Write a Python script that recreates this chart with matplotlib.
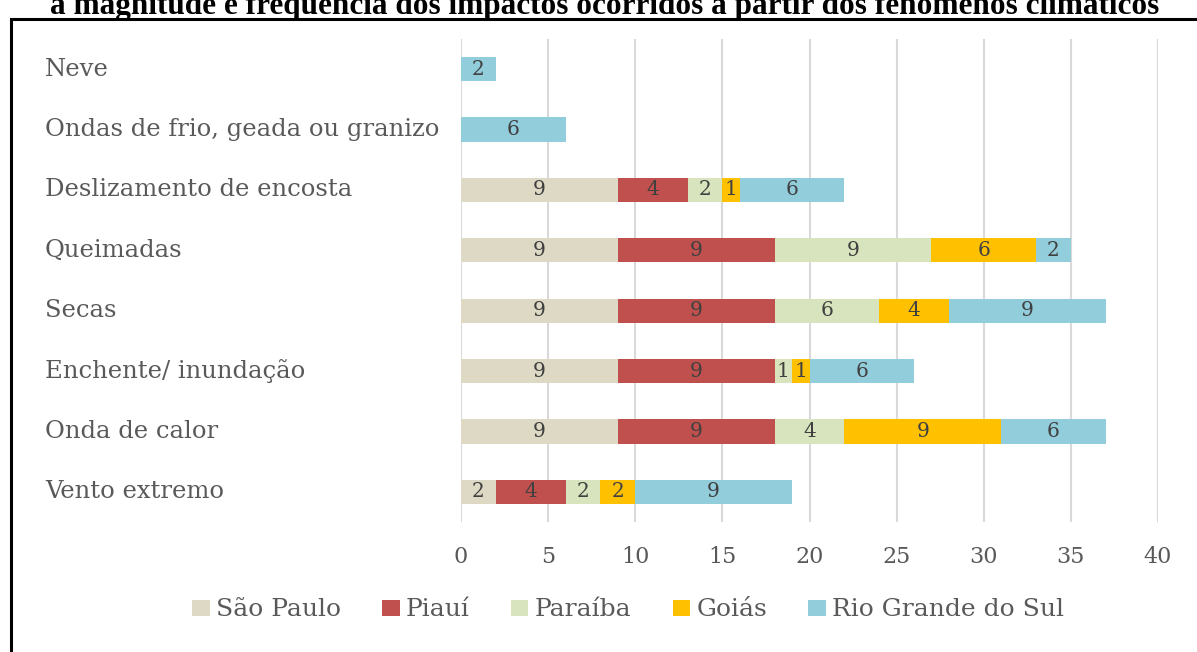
import matplotlib
matplotlib.use("Agg")
import matplotlib.pyplot as plt
from matplotlib.patches import Rectangle, Patch
import numpy as np

categories = ["Neve", "Ondas de frio, geada ou granizo", "Deslizamento de encosta",
              "Queimadas", "Secas", "Enchente/ inundação", "Onda de calor", "Vento extremo"]
series_names = ["São Paulo", "Piauí", "Paraíba", "Goiás", "Rio Grande do Sul"]
sao_paulo = [0, 0, 9, 9, 9, 9, 9, 2]
piaui = [0, 0, 4, 9, 9, 9, 9, 4]
paraiba = [0, 0, 2, 9, 6, 1, 4, 2]
goias = [0, 0, 1, 6, 4, 1, 9, 2]
rio_grande = [2, 6, 6, 2, 9, 6, 6, 9]
x_ticks = [0, 5, 10, 15, 20, 25, 30, 35, 40]
colors = ["#ddd9c4", "#c0504d", "#d7e4bd", "#ffc000", "#92cddc"]
title = "a magnitude e frequência dos impactos ocorridos a partir dos fenômenos climáticos"

W, H = 1197, 652
fig = plt.figure(figsize=(W / 100, H / 100), dpi=100)
fig.patch.set_facecolor("white")

font = "DejaVu Serif"
txtcol = "#595959"

# axes placement in pixels
x0, x1 = 461, 1158
y_top, y_bot = 38.8, 522.2
ax = fig.add_axes([x0 / W, 1 - y_bot / H, (x1 - x0) / W, (y_bot - y_top) / H])

data = [sao_paulo, piaui, paraiba, goias, rio_grande]
y = np.arange(len(categories))
left = np.zeros(len(categories))
for name, vals, c in zip(series_names, data, colors):
    vals = np.array(vals, dtype=float)
    ax.barh(y, vals, left=left, height=0.4, color=c, label=name, zorder=3)
    for yi, l, v in zip(y, left, vals):
        if v > 0:
            ax.text(l + v / 2, yi, f"{int(v)}", ha="center", va="center",
                    fontsize=14.5, color="#404040", family=font, zorder=4)
    left += vals

ax.set_xlim(x_ticks[0], x_ticks[-1])
ax.set_ylim(len(categories) - 0.5, -0.5)
ax.set_xticks(x_ticks)
ax.xaxis.grid(True, color="#d9d9d9", lw=1.5, zorder=0)
ax.set_axisbelow(True)
for s in ax.spines.values():
    s.set_visible(False)
ax.tick_params(axis="both", length=0)
ax.set_yticks(y)
ax.set_yticklabels([])
ax.set_xticklabels([str(v) for v in x_ticks], fontsize=16, color=txtcol, family=font)
ax.tick_params(axis="x", pad=17)

for yi, cat in zip(y, categories):
    fig.text(45 / W, 1 - (69 + yi * 60.4) / H, cat, ha="left", va="center",
             fontsize=17.5, color=txtcol, family=font)

handles = [Patch(facecolor=c, edgecolor="none") for c in colors]
leg = fig.legend(handles, series_names, loc="center", bbox_to_anchor=(628 / W, 1 - 610 / H),
                 ncol=5, frameon=False, prop={"family": font, "size": 18},
                 handlelength=0.7, handleheight=0.6, handletextpad=0.25, columnspacing=1.65)
for t in leg.get_texts():
    t.set_color(txtcol)

# outer black frame
fig.add_artist(Rectangle((11 / W, -0.1), 1.2, 1 - 19 / H + 0.1, transform=fig.transFigure,
                         fill=False, edgecolor="black", lw=2.2))
# title (cut at top, as in the reference)
fig.text(605 / W, 1 - 14 / H, title, ha="center", va="baseline", fontsize=22.5,
         fontweight="bold", family="Liberation Serif", color="black")

fig.savefig("out.png", dpi=100)
